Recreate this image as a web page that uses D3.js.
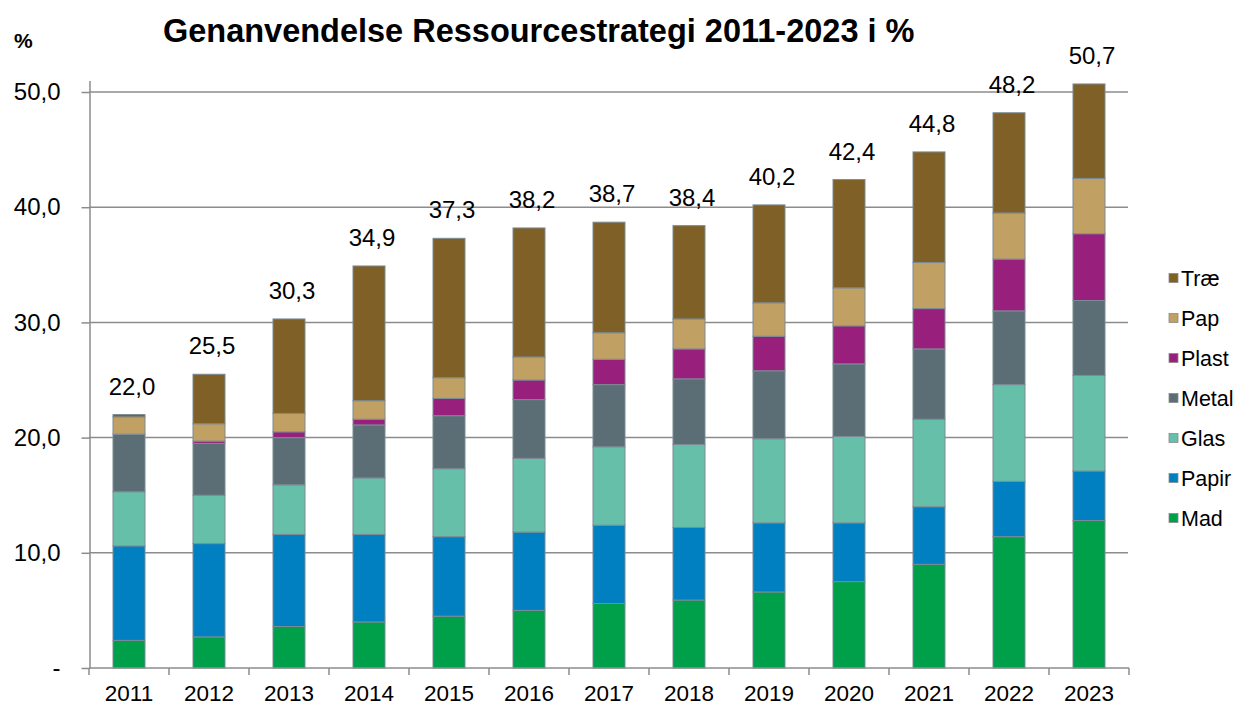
<!DOCTYPE html>
<html><head><meta charset="utf-8">
<script src="https://cdn.jsdelivr.net/npm/d3@7"></script>
<style>body{margin:0;background:#fff}svg{display:block;font-family:"Liberation Sans",Arial,sans-serif}</style>
</head><body><svg id="c" width="1245" height="706"></svg>
<script>
const years = ["2011","2012","2013","2014","2015","2016","2017","2018","2019","2020","2021","2022","2023"];
const seriesNames = ["Mad","Papir","Glas","Metal","Plast","Pap","Træ"];
const seriesColors = ["#00A04A","#0080C0","#66BFA9","#5B6E76","#991F7D","#C0A063","#7F6127"];
const mad   = [2.4,2.7,3.6,4.0,4.5,5.0,5.6,5.9,6.6,7.5,9.0,11.4,12.8];
const papir = [8.2,8.1,8.0,7.6,6.9,6.8,6.8,6.3,6.0,5.1,5.0,4.8,4.3];
const glas  = [4.7,4.2,4.3,4.9,5.9,6.4,6.8,7.2,7.3,7.5,7.6,8.4,8.3];
const metal = [5.0,4.5,4.1,4.6,4.6,5.1,5.4,5.7,5.9,6.3,6.1,6.4,6.5];
const plast = [0.0,0.2,0.5,0.5,1.5,1.7,2.2,2.6,3.0,3.3,3.5,4.5,5.8];
const pap   = [1.5,1.5,1.6,1.6,1.8,2.0,2.3,2.6,2.9,3.3,4.0,4.0,4.8];
const trae  = [0.2,4.3,8.2,11.7,12.1,11.2,9.6,8.1,8.5,9.4,9.6,8.7,8.2];
const totals = [22.0,25.5,30.3,34.9,37.3,38.2,38.7,38.4,40.2,42.4,44.8,48.2,50.7];
const yTicks = [0,10,20,30,40,50];
const title = "Genanvendelse Ressourcestrategi 2011-2023 i %";
const yUnit = "%";

const seriesValues = [mad,papir,glas,metal,plast,pap,trae];
const rows = years.map((yr,i)=>{const r={year:yr}; seriesNames.forEach((s,k)=>r[s]=seriesValues[k][i]); return r;});
const stack = d3.stack().keys(seriesNames)(rows);

const svg = d3.select("#c");
const x = d3.scaleBand().domain(years).range([89,1129]).paddingInner(0.6).paddingOuter(0.3);
const y = d3.scaleLinear().domain([0,51]).range([668,80.5]);
const fmt = v => v===0 ? "-" : d3.format(".1f")(v).replace(".",",");

// gridlines
svg.append("g").selectAll("line").data(yTicks.filter(t=>t>0)).join("line")
  .attr("x1",89).attr("x2",1128).attr("y1",d=>y(d)).attr("y2",d=>y(d))
  .attr("stroke","#8c8c8c").attr("stroke-width",1.5);

// y axis
const ya = svg.append("g").attr("transform","translate(89.5,0)")
  .call(d3.axisLeft(y).tickValues(yTicks).tickFormat(fmt).tickSize(8).tickSizeOuter(0).tickPadding(21));
ya.select(".domain").attr("stroke","#8c8c8c").attr("stroke-width",1.5);
ya.selectAll(".tick line").attr("stroke","#8c8c8c").attr("stroke-width",1.5);
ya.selectAll("text").attr("font-size",24).attr("fill","#000").attr("font-family","Liberation Sans, Arial, sans-serif");

// bars
svg.append("g").selectAll("g").data(stack).join("g")
  .attr("fill",(d,i)=>seriesColors[i])
  .selectAll("rect").data(d=>d).join("rect")
  .attr("x",d=>x(d.data.year)).attr("width",x.bandwidth())
  .attr("y",d=>y(d[1])).attr("height",d=>Math.max(0,y(d[0])-y(d[1])))
  .attr("stroke","#7d8b95").attr("stroke-width",1);

// x axis
const xa = svg.append("g").attr("transform","translate(0,668)");
xa.append("line").attr("x1",89).attr("x2",1129).attr("stroke","#8c8c8c").attr("stroke-width",1.5);
const bounds = d3.range(years.length+1).map(i=>89+i*x.step());
xa.selectAll("line.t").data(bounds).join("line").attr("class","t")
  .attr("x1",d=>d).attr("x2",d=>d).attr("y1",0).attr("y2",7).attr("stroke","#8c8c8c").attr("stroke-width",1.5);
xa.selectAll("text").data(years).join("text")
  .attr("x",d=>x(d)+x.bandwidth()/2).attr("y",32.5).attr("text-anchor","middle")
  .attr("font-size",22.5).text(d=>d);

// totals
svg.append("g").selectAll("text").data(totals).join("text")
  .attr("x",(d,i)=>x(years[i])+x.bandwidth()/2+3).attr("y",d=>y(d)-20)
  .attr("text-anchor","middle").attr("font-size",24).text(d=>fmt(d));

// title
svg.append("text").attr("x",538.7).attr("y",41.7).attr("text-anchor","middle")
  .attr("font-weight","bold").attr("font-size",32.5).text(title);
svg.append("text").attr("x",14).attr("y",48).attr("font-weight","bold").attr("font-size",21).text(yUnit);

// legend (reverse order)
const leg = svg.append("g").selectAll("g").data(seriesNames.slice().reverse()).join("g")
  .attr("transform",(d,i)=>`translate(1169,${278+i*40})`);
leg.append("rect").attr("x",0).attr("y",-4.5).attr("width",9).attr("height",9)
  .attr("fill",d=>seriesColors[seriesNames.indexOf(d)]).attr("stroke","#8a8a8a").attr("stroke-width",0.8);
leg.append("text").attr("x",12).attr("y",7.5).attr("font-size",21.5).text(d=>d);
</script></body></html>
